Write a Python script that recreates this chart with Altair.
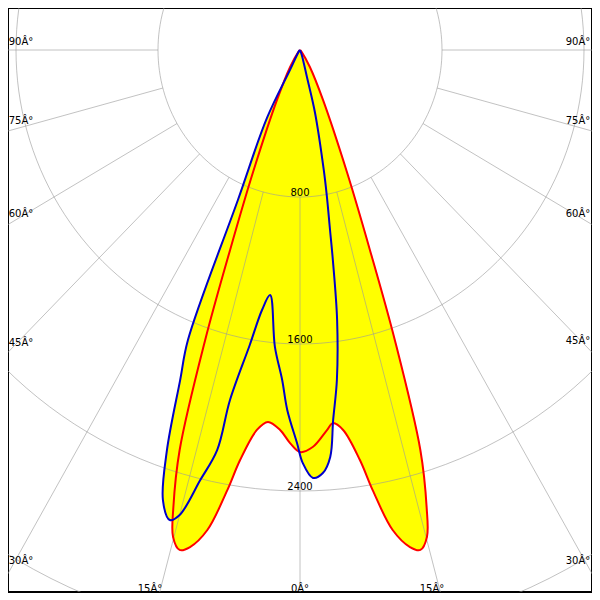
import altair as alt
import numpy as np
import pandas as pd

# ---- data (luminous intensity, cd) ----
# C0-C180 plane (red), angles in degrees from nadir, negative = left side
red_angles = [-90, -40, -31, -25.5, -21.7, -19.9, -18.7, -17.3, -16.0, -15.1, -14.0, -12.9,
              -11.3, -9.7, -8.6, -6.7, -5.1, -3.1, -1.5, 0, 1.9, 4.2, 5.2, 6.7, 8.6, 9.7,
              11.3, 12.9, 14.0, 15.1, 16.0, 17.3, 18.7, 19.9, 21.7, 25.5, 31, 40, 90]
red_values = [0, 15, 108, 301, 715, 1157, 1666, 2280, 2588, 2745, 2804, 2775,
              2664, 2430, 2257, 2082, 2032, 2071, 2140, 2188, 2162, 2074, 2039, 2082, 2257, 2430,
              2664, 2775, 2804, 2745, 2588, 2280, 1666, 1157, 715, 301, 108, 15, 0]

# C90-C270 plane (blue)
blue_angles = [-90, -40, -27.4, -26.7, -23.2, -21.8, -20.6, -19.0, -17.5, -16.0,
               -15.0, -13.5, -12.1, -11.7, -10.0, -8.6, -7.2, -5.0, -3.2, -2.1,
               -0.45, 0.4, 1.8, 3.2, 4.4, 5.3, 6.6, 8.1, 9.2, 9.8,
               10.8, 11.6, 13.9, 14.9, 20, 90]
blue_values = [0, 10, 122, 414, 888, 1700, 1919, 2302, 2568, 2661,
               2620, 2407, 2227, 1945, 1630, 1431, 1344, 1622, 1799, 1960,
               2139, 2248, 2330, 2306, 2221, 2022, 1808, 1484, 1158, 994,
               804, 665, 353, 152, 30, 0]

ring_values = [800, 1600, 2400, 3200]
ring_labels = ["800", "1600", "2400"]
spoke_angles = [-90, -75, -60, -45, -30, -15, 0, 15, 30, 45, 60, 75, 90]
angle_labels = ["90Â°", "75Â°", "60Â°", "45Â°", "30Â°", "15Â°", "0Â°",
                "15Â°", "30Â°", "45Â°", "60Â°", "75Â°", "90Â°"]

# ---- layout (pixel geometry of the reference) ----
CX, CY = 300.0, 50.0          # pole position in page pixels
SX, SY = 0.1775, 0.18375      # pixels per cd, horizontal / vertical
W = H = 584                   # plot area (page 8..592)
x_dom = [(8 - CX) / SX, (8 + W - CX) / SX]
y_dom = [-(8 + H - CY) / SY, (CY - 8) / SY]

# label anchor points (page pixels) for the angle labels
angle_label_px = [(21, 42), (21, 121), (21, 214), (21, 343), (21, 561), (150, 589), (300, 589),
                  (432, 589), (578, 561), (578, 341), (578, 214), (578, 121), (578, 42)]


def polar(angles, values, name):
    a = np.radians(np.array(angles, dtype=float))
    v = np.array(values, dtype=float)
    return pd.DataFrame({"curve": name, "idx": np.arange(len(a)),
                         "x": v * np.sin(a), "y": -v * np.cos(a)})


red = polar(red_angles, red_values, "C0-C180")
blue = polar(blue_angles, blue_values, "C90-C270")

rings = []
for r in ring_values:
    t = np.radians(np.arange(0, 361, 2))
    rings.append(pd.DataFrame({"ring": r, "idx": np.arange(len(t)),
                               "x": r * np.sin(t), "y": -r * np.cos(t)}))
rings = pd.concat(rings)

sa = np.radians(np.array(spoke_angles, dtype=float))
spokes = pd.DataFrame({"x": 800 * np.sin(sa), "y": -800 * np.cos(sa),
                       "x2": 5000 * np.sin(sa), "y2": -5000 * np.cos(sa)})

rlab = pd.DataFrame({"text": ring_labels, "x": 0.0,
                     "y": [-float(v) for v in ring_values[:3]]})
alab = pd.DataFrame({"text": angle_labels,
                     "x": [(p[0] - CX) / SX for p in angle_label_px],
                     "y": [-(p[1] - CY) / SY for p in angle_label_px]})

xs = alt.Scale(domain=x_dom, nice=False, zero=False)
ys = alt.Scale(domain=y_dom, nice=False, zero=False)
INTERP = "catmull-rom"


def X(f="x"):
    return alt.X(f, type="quantitative", scale=xs, axis=None)


def Y(f="y"):
    return alt.Y(f, type="quantitative", scale=ys, axis=None)


fill_red = alt.Chart(red).mark_line(fill="#ffff00", stroke="#ffff00", strokeWidth=0.5,
                                    interpolate=INTERP, clip=True).encode(
    x=X(), y=Y(), order="idx:Q")
fill_blue = alt.Chart(blue).mark_line(fill="#ffff00", stroke="#ffff00", strokeWidth=0.5,
                                      interpolate=INTERP, clip=True).encode(
    x=X(), y=Y(), order="idx:Q")

ring_text = alt.Chart(rlab).mark_text(font="DejaVu Sans", fontSize=10, color="black",
                                      baseline="alphabetic", dy=-1).encode(
    x=X(), y=Y(), text="text:N")
angle_text = alt.Chart(alab).mark_text(font="DejaVu Sans", fontSize=10, color="black",
                                       baseline="middle", align="center").encode(
    x=X(), y=Y(), text="text:N")

grid_rings = alt.Chart(rings).mark_line(stroke="#999999", strokeOpacity=0.6, strokeWidth=1,
                                        clip=True).encode(
    x=X(), y=Y(), order="idx:Q", detail="ring:N")
grid_spokes = alt.Chart(spokes).mark_rule(stroke="#999999", strokeOpacity=0.6, strokeWidth=1,
                                          clip=True).encode(
    x=X(), y=Y(), x2="x2:Q", y2="y2:Q")

line_red = alt.Chart(red).mark_line(stroke="#ff0000", strokeWidth=2, interpolate=INTERP,
                                    clip=True).encode(
    x=X(), y=Y(), order="idx:Q")
line_blue = alt.Chart(blue).mark_line(stroke="#0000cc", strokeWidth=2, interpolate=INTERP,
                                      clip=True).encode(
    x=X(), y=Y(), order="idx:Q")

chart = alt.layer(fill_red, fill_blue, ring_text, grid_rings, grid_spokes, angle_text,
                  line_red, line_blue).properties(
    width=W, height=H, padding=0, background="white"
).configure_view(stroke="black", strokeWidth=2)

chart.save("out.html", embed_options={"renderer": "svg", "actions": False})
